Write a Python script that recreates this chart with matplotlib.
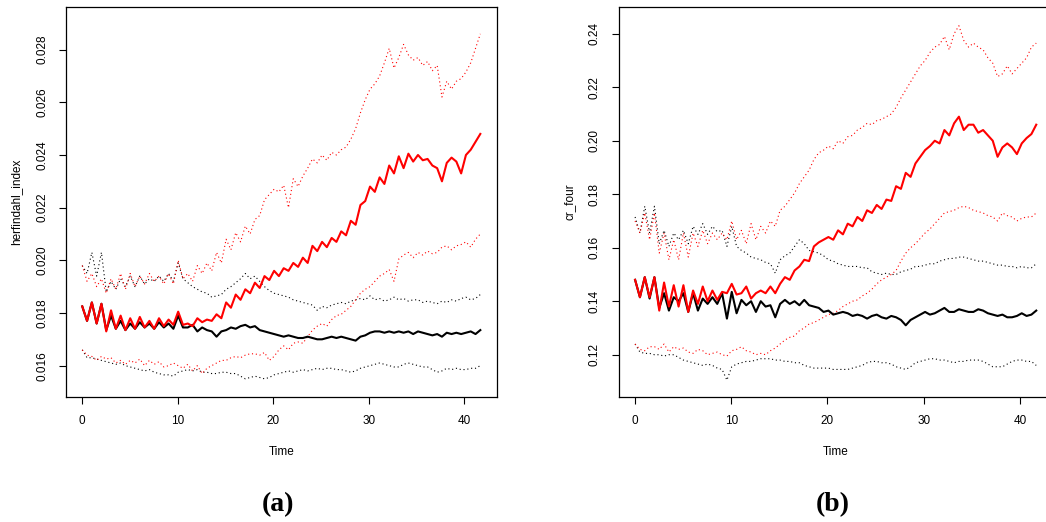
import numpy as np
import matplotlib
matplotlib.use("Agg")
import matplotlib.pyplot as plt

plt.rcParams['font.family'] = ['Liberation Sans', 'DejaVu Sans']

# time axis (84 samples, half-year steps)
time = np.linspace(0, 41.7, 84)

# ---- panel (a): herfindahl_index, values in 1e-3 ----
red_mean_a = np.array([
    18.25, 17.7, 18.4, 17.6, 18.35, 17.3, 18.1, 17.4, 17.9, 17.35,
    17.8, 17.4, 17.85, 17.45, 17.7, 17.4, 17.8, 17.5, 17.75, 17.55,
    18.05, 17.55, 17.6, 17.5, 17.8, 17.65, 17.75, 17.7, 17.95, 17.8,
    18.4, 18.2, 18.7, 18.5, 18.9, 18.75, 19.15, 18.95, 19.4, 19.25,
    19.6, 19.4, 19.7, 19.6, 19.9, 19.75, 20.1, 19.9, 20.55, 20.35,
    20.7, 20.5, 20.85, 20.7, 21.1, 20.95, 21.5, 21.35, 22.1, 22.25,
    22.8, 22.6, 23.15, 22.9, 23.6, 23.3, 23.95, 23.5, 24.05, 23.75,
    24.0, 23.8, 23.85, 23.6, 23.5, 23.0, 23.7, 23.9, 23.75, 23.3,
    24.0, 24.2, 24.5, 24.8]) / 1000
black_mean_a = np.array([
    18.25, 17.7, 18.4, 17.6, 18.35, 17.35, 17.9, 17.4, 17.7, 17.35,
    17.6, 17.4, 17.65, 17.45, 17.6, 17.4, 17.65, 17.45, 17.6, 17.4,
    17.9, 17.45, 17.45, 17.55, 17.3, 17.45, 17.35, 17.3, 17.1, 17.3,
    17.35, 17.45, 17.4, 17.5, 17.55, 17.45, 17.5, 17.35, 17.3, 17.25,
    17.2, 17.15, 17.1, 17.15, 17.1, 17.05, 17.05, 17.1, 17.05, 17.0,
    17.0, 17.05, 17.1, 17.05, 17.1, 17.05, 17.0, 16.95, 17.1, 17.15,
    17.25, 17.3, 17.3, 17.25, 17.3, 17.25, 17.3, 17.25, 17.3, 17.2,
    17.3, 17.25, 17.2, 17.15, 17.2, 17.1, 17.25, 17.2, 17.25, 17.2,
    17.25, 17.3, 17.2, 17.35]) / 1000
red_hi_a = np.array([
    19.8, 19.2, 19.5, 19.0, 19.3, 18.75, 19.3, 18.9, 19.5, 18.9,
    19.5, 19.0, 19.4, 19.1, 19.5, 19.2, 19.4, 19.1, 19.5, 19.1,
    20.0, 19.3, 19.5, 19.2, 19.8, 19.5, 19.9, 19.6, 20.3, 19.9,
    20.8, 20.4, 21.05, 20.7, 21.3, 21.0, 21.55, 21.7, 22.3, 22.5,
    22.7, 22.6, 22.85, 22.0, 23.1, 22.8, 23.2, 23.5, 23.85, 23.7,
    24.0, 23.8, 24.1, 24.0, 24.2, 24.3, 24.6, 25.0, 25.6, 26.1,
    26.5, 26.7, 27.0, 27.5, 28.05, 27.3, 27.7, 28.2, 27.8, 27.6,
    27.7, 27.4, 27.55, 27.2, 27.4, 26.2, 26.8, 26.5, 26.8, 26.9,
    27.15, 27.5, 28.05, 28.6]) / 1000
red_lo_a = np.array([
    16.6, 16.4, 16.35, 16.2, 16.35, 16.25, 16.3, 16.1, 16.2, 16.05,
    16.2, 16.1, 16.25, 16.0, 16.2, 16.05, 16.15, 15.95, 16.0, 16.1,
    16.0, 15.9, 16.05, 15.8, 16.0, 15.7, 15.9, 16.0, 16.1, 16.2,
    16.2, 16.3, 16.35, 16.3, 16.4, 16.45, 16.45, 16.4, 16.5, 16.2,
    16.35, 16.6, 16.75, 16.6, 16.85, 16.9, 16.85, 17.1, 17.35, 17.5,
    17.6, 17.5, 17.75, 17.9, 17.95, 18.1, 18.25, 18.5, 18.75, 18.9,
    19.0, 19.2, 19.4, 19.5, 19.65, 19.2, 20.05, 20.2, 20.3, 20.1,
    20.3, 20.2, 20.35, 20.25, 20.3, 20.5, 20.55, 20.4, 20.55, 20.6,
    20.7, 20.5, 20.8, 21.0]) / 1000
black_hi_a = np.array([
    19.8, 19.5, 20.3, 19.4, 20.3, 18.8, 19.2, 18.9, 19.3, 19.0,
    19.4, 19.0, 19.4, 19.1, 19.3, 19.2, 19.4, 19.2, 19.5, 19.2,
    19.9, 19.3, 19.15, 19.0, 18.9, 18.8, 18.75, 18.6, 18.65, 18.7,
    18.9, 19.0, 19.15, 19.3, 19.5, 19.3, 19.4, 19.2, 19.0, 18.85,
    18.75, 18.7, 18.65, 18.6, 18.5, 18.45, 18.4, 18.35, 18.3, 18.1,
    18.25, 18.2, 18.3, 18.35, 18.4, 18.35, 18.45, 18.5, 18.55, 18.5,
    18.65, 18.5, 18.55, 18.45, 18.5, 18.6, 18.5, 18.55, 18.45, 18.5,
    18.5, 18.4, 18.45, 18.4, 18.35, 18.45, 18.4, 18.5, 18.45, 18.55,
    18.6, 18.5, 18.55, 18.7]) / 1000
black_lo_a = np.array([
    16.6, 16.3, 16.3, 16.25, 16.2, 16.15, 16.1, 16.05, 16.1, 16.0,
    15.95, 15.9, 15.85, 15.8, 15.85, 15.75, 15.7, 15.65, 15.65, 15.6,
    15.75, 15.8, 15.85, 15.8, 15.85, 15.75, 15.75, 15.7, 15.7, 15.75,
    15.75, 15.7, 15.7, 15.6, 15.5, 15.55, 15.6, 15.55, 15.5, 15.55,
    15.65, 15.7, 15.75, 15.8, 15.75, 15.8, 15.85, 15.8, 15.85, 15.9,
    15.85, 15.9, 15.9, 15.85, 15.85, 15.8, 15.75, 15.8, 15.9, 15.95,
    16.0, 16.05, 16.1, 16.05, 16.0, 15.95, 15.95, 16.05, 16.1, 16.05,
    16.0, 15.95, 15.95, 15.85, 15.75, 15.8, 15.9, 15.85, 15.9, 15.85,
    15.85, 15.9, 15.9, 16.0]) / 1000

# ---- panel (b): cr_four, values in 1e-2 ----
red_mean_b = np.array([
    14.8, 14.15, 14.9, 14.15, 14.9, 13.65, 14.7, 13.8, 14.6, 13.8,
    14.6, 13.6, 14.4, 13.9, 14.55, 14.0, 14.4, 14.05, 14.35, 14.3,
    14.65, 14.25, 14.3, 14.55, 14.1, 14.3, 14.4, 14.3, 14.55, 14.3,
    14.65, 14.9, 14.8, 15.15, 15.3, 15.55, 15.5, 16.05, 16.2, 16.3,
    16.4, 16.3, 16.65, 16.5, 16.9, 16.8, 17.15, 17.0, 17.4, 17.3,
    17.6, 17.45, 17.8, 17.75, 18.3, 18.2, 18.8, 18.65, 19.15, 19.4,
    19.65, 19.8, 20.0, 19.9, 20.4, 20.2, 20.65, 20.9, 20.4, 20.6,
    20.6, 20.3, 20.4, 20.2, 20.0, 19.4, 19.75, 19.9, 19.75, 19.5,
    19.9, 20.1, 20.25, 20.6]) / 100
black_mean_b = np.array([
    14.8, 14.15, 14.9, 14.1, 14.9, 13.75, 14.3, 13.65, 14.15, 14.0,
    14.3, 13.6, 14.3, 13.65, 14.1, 13.9, 14.15, 13.9, 14.3, 13.35,
    14.35, 13.55, 14.05, 13.85, 14.0, 13.6, 14.0, 13.8, 13.85, 13.4,
    13.9, 14.05, 13.9, 14.0, 13.85, 14.05, 13.85, 13.8, 13.75, 13.6,
    13.65, 13.5, 13.55, 13.6, 13.55, 13.45, 13.5, 13.45, 13.35, 13.45,
    13.5, 13.4, 13.35, 13.45, 13.4, 13.3, 13.1, 13.3, 13.4, 13.5,
    13.6, 13.5, 13.55, 13.65, 13.75, 13.6, 13.6, 13.7, 13.65, 13.6,
    13.6, 13.7, 13.65, 13.55, 13.5, 13.45, 13.5, 13.4, 13.4, 13.45,
    13.55, 13.45, 13.5, 13.65]) / 100
red_hi_b = np.array([
    17.0, 16.55, 17.3, 16.3, 17.3, 15.8, 16.55, 15.55, 16.3, 15.55,
    16.55, 15.65, 16.55, 16.05, 16.65, 16.15, 16.55, 16.3, 16.55, 16.3,
    17.0, 16.3, 16.65, 16.15, 16.9, 16.3, 16.8, 16.55, 17.0, 16.8,
    17.4, 17.55, 17.8, 18.05, 18.4, 18.65, 18.9, 19.3, 19.55, 19.65,
    19.8, 19.7, 20.0, 19.9, 20.15, 20.2, 20.4, 20.5, 20.65, 20.6,
    20.75, 20.8, 20.9, 21.0, 21.25, 21.6, 21.9, 22.2, 22.5, 22.8,
    23.0, 23.3, 23.5, 23.6, 23.9, 23.4, 24.0, 24.3, 23.75, 23.5,
    23.65, 23.5, 23.4, 23.1, 22.9, 22.4, 22.5, 22.8, 22.5, 22.7,
    22.9, 23.1, 23.5, 23.65]) / 100
red_lo_b = np.array([
    12.4, 12.2, 12.15, 12.3, 12.3, 12.2, 12.4, 12.1, 12.3, 12.2,
    12.25, 12.1, 12.05, 12.2, 12.15, 12.0, 12.05, 12.1, 12.0, 11.95,
    12.15, 12.2, 12.3, 12.15, 12.1, 12.0, 12.05, 12.0, 12.15, 12.25,
    12.4, 12.55, 12.65, 12.7, 12.9, 13.0, 13.15, 13.2, 13.3, 13.4,
    13.5, 13.55, 13.65, 13.8, 13.9, 14.0, 14.05, 14.2, 14.3, 14.45,
    14.65, 14.8, 14.9, 15.0, 15.15, 15.5, 15.8, 16.0, 16.15, 16.35,
    16.55, 16.7, 16.9, 17.1, 17.3, 17.35, 17.4, 17.5, 17.55, 17.5,
    17.4, 17.35, 17.3, 17.2, 17.15, 17.0, 17.3, 17.2, 17.15, 17.0,
    17.1, 17.15, 17.15, 17.3]) / 100
black_hi_b = np.array([
    17.15, 16.55, 17.55, 16.55, 17.55, 16.15, 16.65, 16.05, 16.55, 16.3,
    16.65, 16.15, 16.8, 16.5, 16.9, 16.5, 16.8, 16.6, 16.65, 16.05,
    16.8, 16.05, 15.9, 15.8, 15.65, 15.6, 15.55, 15.45, 15.4, 15.05,
    15.55, 15.7, 15.8, 16.05, 16.3, 16.15, 15.9, 15.85, 15.8, 15.7,
    15.55, 15.5, 15.4, 15.35, 15.3, 15.3, 15.3, 15.25, 15.25, 15.1,
    15.05, 15.0, 15.05, 15.0, 15.0, 15.1, 15.15, 15.2, 15.3, 15.3,
    15.35, 15.4, 15.4, 15.5, 15.55, 15.6, 15.6, 15.65, 15.65, 15.6,
    15.55, 15.5, 15.5, 15.45, 15.4, 15.35, 15.35, 15.3, 15.3, 15.25,
    15.3, 15.25, 15.25, 15.4]) / 100
black_lo_b = np.array([
    12.4, 12.1, 12.05, 12.05, 12.0, 12.0, 11.95, 12.0, 12.0, 11.9,
    11.8, 11.75, 11.7, 11.65, 11.6, 11.65, 11.6, 11.5, 11.45, 11.05,
    11.55, 11.65, 11.7, 11.75, 11.75, 11.8, 11.85, 11.85, 11.85, 11.8,
    11.8, 11.75, 11.75, 11.7, 11.7, 11.6, 11.55, 11.5, 11.5, 11.5,
    11.5, 11.45, 11.45, 11.45, 11.45, 11.5, 11.55, 11.6, 11.7, 11.75,
    11.75, 11.7, 11.7, 11.65, 11.55, 11.5, 11.45, 11.55, 11.7, 11.75,
    11.8, 11.85, 11.85, 11.8, 11.8, 11.75, 11.7, 11.75, 11.75, 11.8,
    11.8, 11.8, 11.75, 11.65, 11.55, 11.55, 11.55, 11.65, 11.75, 11.8,
    11.8, 11.75, 11.75, 11.6]) / 100

yticks_a = [0.016, 0.018, 0.020, 0.022, 0.024, 0.026, 0.028]
yticks_b = [0.12, 0.14, 0.16, 0.18, 0.20, 0.22, 0.24]
xticks = [0, 10, 20, 30, 40]

fig = plt.figure(figsize=(10.46, 5.22), dpi=100)
ax_a = fig.add_axes([0.0634, 0.2400, 0.4115, 0.7471])
ax_b = fig.add_axes([0.5918, 0.2400, 0.4147, 0.7471])

dot = (0, (1, 2.5))


def draw(ax, mean_k, hi_k, lo_k, mean_r, hi_r, lo_r, ylab, yticks, ylim, fmt, letter):
    ax.plot(time, hi_k, color='black', lw=0.8, ls=dot)
    ax.plot(time, lo_k, color='black', lw=0.8, ls=dot)
    ax.plot(time, hi_r, color='red', lw=0.8, ls=dot)
    ax.plot(time, lo_r, color='red', lw=0.8, ls=dot)
    ax.plot(time, mean_k, color='black', lw=1.5)
    ax.plot(time, mean_r, color='red', lw=1.5)
    ax.set_xlim(-1.67, 43.42)
    ax.set_ylim(*ylim)
    ax.set_xticks(xticks)
    ax.set_yticks(yticks)
    ax.set_yticklabels([fmt.format(v) for v in yticks], rotation=90, va='center')
    ax.tick_params(direction='out', length=5, width=0.8, labelsize=8.5, pad=8)
    ax.set_xlabel('Time', fontsize=8.5, labelpad=14)
    ax.set_ylabel(ylab, fontsize=8.5, labelpad=10)
    for s in ax.spines.values():
        s.set_linewidth(0.9)
    ax.text(0.492, -0.277, letter, transform=ax.transAxes, ha='center', va='center',
            fontsize=20, fontweight='bold', family=['Liberation Serif', 'DejaVu Serif'])


draw(ax_a, black_mean_a, black_hi_a, black_lo_a, red_mean_a, red_hi_a, red_lo_a,
     'herfindahl_index', yticks_a, (0.01482, 0.02963), '{:.3f}', '(a)')
draw(ax_b, black_mean_b, black_hi_b, black_lo_b, red_mean_b, red_hi_b, red_lo_b,
     'cr_four', yticks_b, (0.1043, 0.2501), '{:.2f}', '(b)')

fig.savefig('out.png', dpi=100)
